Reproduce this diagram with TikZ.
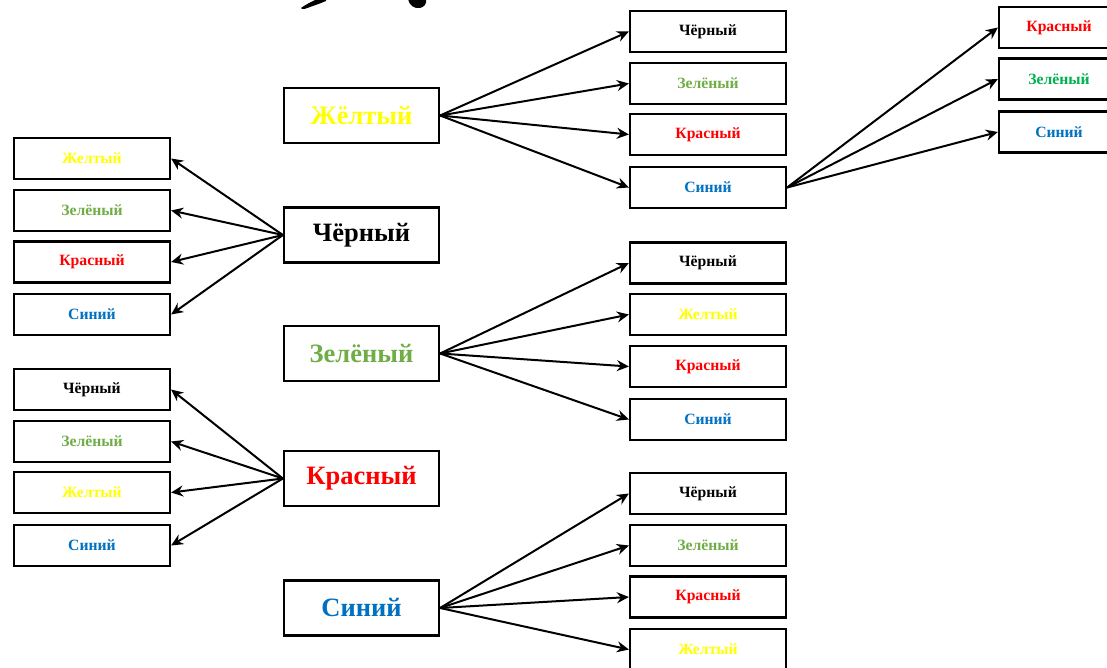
\documentclass[tikz,border=0pt]{standalone}
\usepackage{fontspec}
\setmainfont{Liberation Serif}
\usetikzlibrary{arrows.meta}
\definecolor{cyel}{RGB}{255,255,0}
\definecolor{cgrn}{RGB}{112,173,71}
\definecolor{cgrn2}{RGB}{0,176,80}
\definecolor{cred}{RGB}{255,0,0}
\definecolor{cblu}{RGB}{0,112,192}
\tikzset{
  bigbox/.style={draw, line width=2.2pt, minimum width=155pt, minimum height=55pt,
    inner sep=0pt, font=\fontsize{26.5}{30}\selectfont\bfseries},
  smallbox/.style={draw, line width=2.2pt, minimum width=156pt, minimum height=41pt,
    inner sep=0pt, font=\fontsize{15.7}{18}\selectfont\bfseries},
  arr/.style={line width=2pt, -{Stealth[length=12pt,width=11pt,inset=4pt]}},
}
\begin{document}
\begin{tikzpicture}[x=1pt,y=-1pt]
\useasboundingbox (0,0) rectangle (1107,668);

% scraps of ink along the top edge
\fill (301,8) .. controls (302,10) and (305,9) .. (310,7) .. controls (316,5) and (321,3) .. (326,1)
  -- (326,-1) -- (317,-1) .. controls (311,2) and (305,5) .. cycle;
\fill (408,-1) .. controls (409,5) and (414,9) .. (420,8) .. controls (424,7) and (427,4) .. (426,-1) -- cycle;

% main column
\node[bigbox, text=cyel] (mY) at (361.5,115.5) {Жёлтый};
\node[bigbox] (mB) at (361.5,235) {Чёрный};
\node[bigbox, text=cgrn] (mG) at (361.5,353.5) {Зелёный};
\node[bigbox, text=cred] (mR) at (361.5,478.5) {Красный};
\node[bigbox, text=cblu] (mS) at (361.5,608) {Синий};

% left column: targets of "Чёрный"
\node[smallbox, text=cyel] (lB1) at (92,158.5) {Желтый};
\node[smallbox, text=cgrn] (lB2) at (92,210.5) {Зелёный};
\node[smallbox, text=cred] (lB3) at (92,262) {Красный};
\node[smallbox, text=cblu] (lB4) at (92,314.5) {Синий};

% left column: targets of "Красный"
\node[smallbox] (lR1) at (92,389.5) {Чёрный};
\node[smallbox, text=cgrn] (lR2) at (92,441.5) {Зелёный};
\node[smallbox, text=cyel] (lR3) at (92,492.5) {Желтый};
\node[smallbox, text=cblu] (lR4) at (92,545.5) {Синий};

% right column: targets of "Жёлтый"
\node[smallbox] (rY1) at (708,31.5) {Чёрный};
\node[smallbox, text=cgrn] (rY2) at (708,83.5) {Зелёный};
\node[smallbox, text=cred] (rY3) at (708,134.5) {Красный};
\node[smallbox, text=cblu] (rY4) at (708,187.5) {Синий};

% right column: targets of "Зелёный"
\node[smallbox] (rG1) at (708,263) {Чёрный};
\node[smallbox, text=cyel] (rG2) at (708,314.5) {Желтый};
\node[smallbox, text=cred] (rG3) at (708,366.5) {Красный};
\node[smallbox, text=cblu] (rG4) at (708,419.5) {Синий};

% right column: targets of "Синий"
\node[smallbox] (rS1) at (708,493.5) {Чёрный};
\node[smallbox, text=cgrn] (rS2) at (708,545.5) {Зелёный};
\node[smallbox, text=cred] (rS3) at (708,597) {Красный};
\node[smallbox, text=cyel] (rS4) at (708,649.5) {Желтый};

% far right: targets of the upper "Синий"
\node[smallbox, minimum width=120pt, text=cred] (fS1) at (1059,27.5) {Красный};
\node[smallbox, minimum width=120pt, text=cgrn2] (fS2) at (1059,79) {Зелёный};
\node[smallbox, minimum width=120pt, text=cblu] (fS3) at (1059,132) {Синий};

% connectors
\foreach \t in {rY1,rY2,rY3,rY4} \draw[arr] (mY.east) -- (\t.west);
\foreach \t in {lB1,lB2,lB3,lB4} \draw[arr] (mB.west) -- (\t.east);
\foreach \t in {rG1,rG2,rG3,rG4} \draw[arr] (mG.east) -- (\t.west);
\foreach \t in {lR1,lR2,lR3,lR4} \draw[arr] (mR.west) -- (\t.east);
\foreach \t in {rS1,rS2,rS3,rS4} \draw[arr] (mS.east) -- (\t.west);
\foreach \t in {fS1,fS2,fS3} \draw[arr] (rY4.east) -- (\t.west);
\end{tikzpicture}
\end{document}
